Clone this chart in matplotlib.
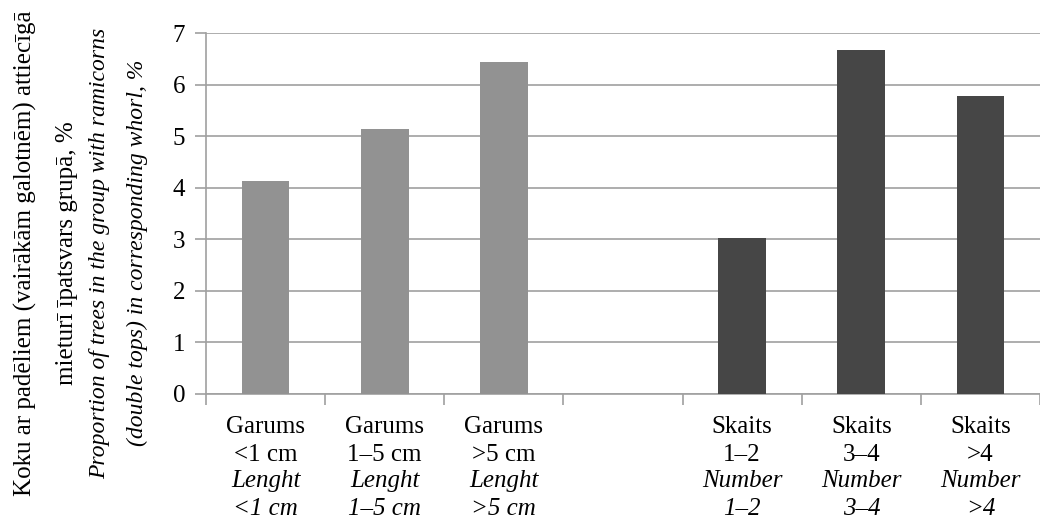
import matplotlib
matplotlib.use("Agg")
import matplotlib.pyplot as plt
from matplotlib.transforms import blended_transform_factory

plt.rcParams.update({
    "font.family": "Liberation Serif",
    "font.size": 18,
})

# data
cat_lv1 = ["Garums", "Garums", "Garums", "", "Skaits", "Skaits", "Skaits"]
cat_lv2 = ["<1 cm", "1–5 cm", ">5 cm", "", "1–2", "3–4", ">4"]
cat_en1 = ["Lenght", "Lenght", "Lenght", "", "Number", "Number", "Number"]
cat_en2 = ["<1 cm", "1–5 cm", ">5 cm", "", "1–2", "3–4", ">4"]
values = [4.13, 5.14, 6.44, 0.0, 3.03, 6.67, 5.78]
groups = ["length", "length", "length", "none", "number", "number", "number"]

LIGHT = "#929292"
DARK = "#464646"
GRID = "#A0A0A0"
colors = {"length": LIGHT, "number": DARK, "none": "white"}

W, H = 1040, 519
fig = plt.figure(figsize=(W / 100, H / 100), dpi=100)
x0, x1, y0, y1 = 206, 1040, 394, 33
ax = fig.add_axes([x0 / W, (H - y0) / H, (x1 - x0) / W, (y0 - y1) / H])

xs = list(range(len(values)))
for x, v, g in zip(xs, values, groups):
    if g == "none":
        continue
    ax.bar(x, v, width=0.4, color=colors[g], zorder=3)

ax.set_xlim(-0.5, -0.5 + (x1 - x0) / 120)
ax.set_ylim(0, 7)
ax.set_yticks(range(0, 8))
ax.yaxis.grid(True, color=GRID, lw=1.2, zorder=0)
ax.set_axisbelow(True)

for s in ["top", "right"]:
    ax.spines[s].set_visible(False)
for s in ["left", "bottom"]:
    ax.spines[s].set_color(GRID)
    ax.spines[s].set_linewidth(1.2)

ax.tick_params(axis="y", length=8, width=1.2, color=GRID, pad=7, labelsize=18)
ax.set_xticks([i - 0.5 for i in range(len(values) + 1)])
ax.set_xticklabels([])
ax.tick_params(axis="x", length=8, width=1.2, color=GRID)

# category labels, four lines each (baselines in pixels from top)
trans = blended_transform_factory(ax.transData, fig.transFigure)
rows = [(cat_lv1, 433, "normal"), (cat_lv2, 461, "normal"),
        (cat_en1, 487, "italic"), (cat_en2, 515, "italic")]
for labels, py, st in rows:
    for x, t in zip(xs, labels):
        if t:
            ax.text(x, 1 - py / H, t, transform=trans, ha="center",
                    va="baseline", fontsize=18, fontstyle=st)

# y-axis label, two languages
ylab = [
    (25, "Koku ar padēliem (vairākām galotnēm) attiecīgā", "normal", 18),
    (67, "mieturī īpatsvars grupā, %", "normal", 18),
    (100, "Proportion of trees in the group with ramicorns", "italic", 17),
    (137, "(double tops) in corresponding whorl, %", "italic", 17),
]
for px, txt, st, fs in ylab:
    fig.text(px / W, 1 - 253 / H, txt, rotation=90, ha="center", va="center",
             fontsize=fs, fontstyle=st)

fig.savefig("out.png", dpi=100, facecolor="white")
